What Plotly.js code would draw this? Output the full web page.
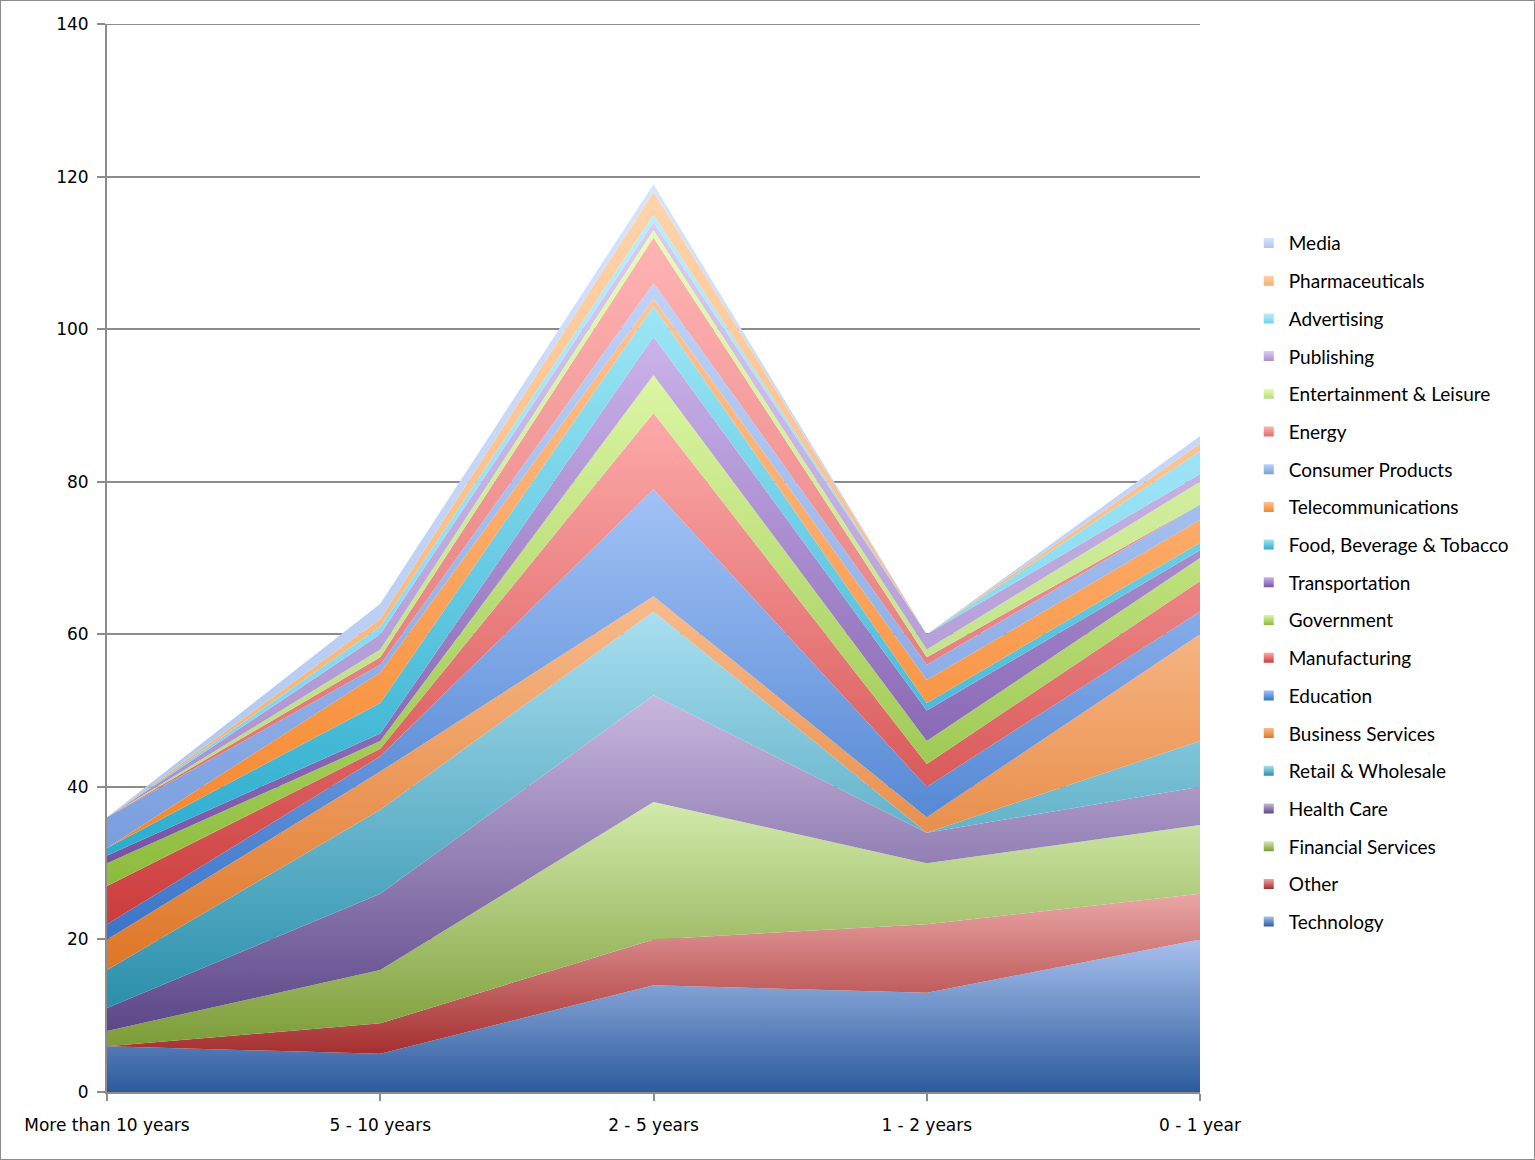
<!DOCTYPE html>
<html>
<head>
<meta charset="utf-8">
<script src="https://cdn.plot.ly/plotly-3.0.1.min.js"></script>
<style>
  html, body { margin: 0; padding: 0; background: #fff; }
  #chart { width: 1533px; height: 1158px; border: 1px solid #8c8c8c; }
</style>
</head>
<body>
<div id="chart"></div>
<script>
// Categories (x axis)
const categories = ['More than 10 years', '5 - 10 years', '2 - 5 years', '1 - 2 years', '0 - 1 year'];

// Series values (stack order: first = bottom)
const technology         = [6, 5, 14, 13, 20];
const other              = [0, 4, 6, 9, 6];
const financialServices  = [2, 7, 18, 8, 9];
const healthCare         = [3, 10, 14, 4, 5];
const retailWholesale    = [5, 11, 11, 0, 6];
const businessServices   = [4, 5, 2, 2, 14];
const education          = [2, 2, 14, 4, 3];
const manufacturing      = [5, 1, 10, 3, 4];
const government         = [3, 1, 5, 3, 3];
const transportation     = [1, 1, 5, 4, 1];
const foodBeverage       = [1, 4, 4, 1, 1];
const telecommunications = [0, 4, 1, 3, 3];
const consumerProducts   = [4, 1, 2, 2, 2];
const energy             = [0, 1, 6, 1, 0];
const entertainment      = [0, 1, 1, 1, 3];
const publishing         = [0, 2, 1, 2, 1];
const advertising        = [0, 1, 1, 0, 3];
const pharmaceuticals    = [0, 1, 3, 0, 1];
const media              = [0, 2, 1, 0, 1];

// Y axis ticks
const yTickValues = [0, 20, 40, 60, 80, 100, 120, 140];

const seriesNames = ['Technology', 'Other', 'Financial Services', 'Health Care', 'Retail & Wholesale',
  'Business Services', 'Education', 'Manufacturing', 'Government', 'Transportation',
  'Food, Beverage & Tobacco', 'Telecommunications', 'Consumer Products', 'Energy',
  'Entertainment & Leisure', 'Publishing', 'Advertising', 'Pharmaceuticals', 'Media'];
const seriesValues = [technology, other, financialServices, healthCare, retailWholesale,
  businessServices, education, manufacturing, government, transportation,
  foodBeverage, telecommunications, consumerProducts, energy,
  entertainment, publishing, advertising, pharmaceuticals, media];

// [dark (bottom), light (top)] gradient colours
const seriesColors = [
  ['#2c5b9c', '#a7c0ee'],
  ['#a52f2f', '#eaa6a6'],
  ['#7c9c38', '#d2eaab'],
  ['#5c4788', '#c9b7df'],
  ['#2a8fab', '#aadff0'],
  ['#de7628', '#f9bb8c'],
  ['#3a74c8', '#a2c2f6'],
  ['#cc3c3c', '#fdaaaa'],
  ['#8cbc3c', '#dcf6a4'],
  ['#7652a6', '#cbb3ea'],
  ['#2cadce', '#9de6f6'],
  ['#f6862a', '#ffc494'],
  ['#7a9ede', '#bfd3f9'],
  ['#de6e6e', '#ffb3b3'],
  ['#b6da7e', '#e6fdb4'],
  ['#a68ece', '#dbcbf2'],
  ['#74d2ea', '#b8eefd'],
  ['#f7ae6e', '#ffd3ab'],
  ['#aec6f0', '#d6e4fd']
];

const traces = [];
const cumLower = categories.map(() => 0);
seriesValues.forEach((vals, i) => {
  const upper = vals.map((v, j) => cumLower[j] + v);
  const gStart = Math.min(...cumLower);
  const gStop = Math.max(...upper);
  traces.push({
    type: 'scatter',
    mode: 'lines',
    x: categories,
    y: vals,
    name: seriesNames[i],
    stackgroup: 'one',
    line: { width: 0, color: seriesColors[i][0] },
    fillcolor: seriesColors[i][0],
    fillgradient: {
      type: 'vertical',
      start: gStart,
      stop: gStop,
      colorscale: [[0, seriesColors[i][0]], [1, seriesColors[i][1]]]
    },
    showlegend: false,
    hoverinfo: 'x+y+name'
  });
  vals.forEach((v, j) => { cumLower[j] += v; });
});

// Legend-only entries (square swatches), top of stack listed first
for (let i = seriesNames.length - 1; i >= 0; i--) {
  traces.push({
    type: 'scatter',
    mode: 'markers',
    x: [null],
    y: [null],
    name: seriesNames[i],
    legendgroup: 'g' + i,
    marker: {
      symbol: 'square',
      size: 10,
      color: seriesColors[i][1],
      gradient: { type: 'vertical', color: seriesColors[i][0] }
    },
    showlegend: true,
    hoverinfo: 'skip'
  });
}

const axisGray = '#8c8c8c';
const yMax = yTickValues[yTickValues.length - 1];
const layout = {
  width: 1533,
  height: 1158,
  margin: { l: 106, r: 334, t: 23, b: 67, pad: 0 },
  paper_bgcolor: '#ffffff',
  plot_bgcolor: '#ffffff',
  font: { family: 'DejaVu Sans, Verdana, sans-serif', size: 17, color: '#000' },
  showlegend: true,
  legend: {
    x: 1.0446,
    xanchor: 'left',
    y: 0.8126,
    yanchor: 'top',
    traceorder: 'grouped',
    tracegroupgap: 10,
    font: { family: 'Lato, Open Sans, sans-serif', size: 19, color: '#000' },
    bgcolor: 'rgba(0,0,0,0)',
    itemwidth: 30
  },
  // top gridline (Plotly omits the gridline at the exact range end)
  shapes: [{
    type: 'line',
    xref: 'paper', x0: 0, x1: 1,
    yref: 'y', y0: yMax, y1: yMax,
    line: { color: axisGray, width: 2 },
    layer: 'below'
  }],
  xaxis: {
    type: 'category',
    range: [0, categories.length - 1],
    showgrid: false,
    zeroline: false,
    showline: true,
    linecolor: axisGray,
    linewidth: 2,
    ticks: 'outside',
    ticklen: 7,
    tickwidth: 2,
    tickcolor: axisGray,
    ticklabelstandoff: 10,
    tickfont: { family: 'DejaVu Sans, Verdana, sans-serif', size: 17, color: '#000' },
    fixedrange: true
  },
  yaxis: {
    range: [0, yMax],
    tickvals: yTickValues,
    ticktext: yTickValues.map(String),
    showgrid: true,
    gridcolor: axisGray,
    gridwidth: 2,
    zeroline: false,
    showline: true,
    linecolor: axisGray,
    linewidth: 2,
    ticks: 'outside',
    ticklen: 8,
    tickwidth: 2,
    tickcolor: axisGray,
    ticklabelstandoff: 5,
    tickfont: { family: 'DejaVu Sans, Verdana, sans-serif', size: 17, color: '#000' },
    fixedrange: true
  }
};

Plotly.newPlot('chart', traces, layout, { displayModeBar: false, staticPlot: true });
</script>
</body>
</html>
